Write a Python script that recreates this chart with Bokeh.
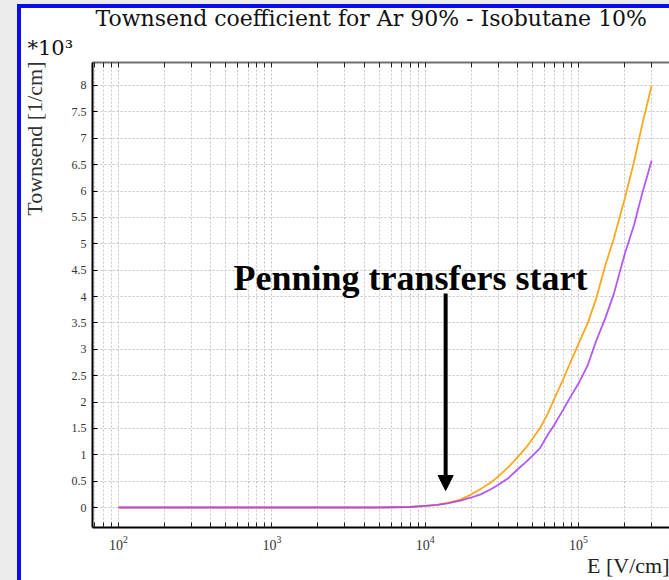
from bokeh.plotting import figure
from bokeh.models import (Range1d, LogAxis, FixedTicker, Arrow, Label,
                          NormalHead, Title)
from bokeh.embed import file_html
from bokeh.resources import INLINE

# ---------------- data ----------------
E_field = [100, 200, 500, 1000, 2000, 5000, 8000, 10000, 12000, 14000, 17000,
           20000, 23000, 27000, 30000, 35000, 40000, 45000, 50000, 56000,
           63000, 70000, 80000, 90000, 100000, 115000, 130000, 150000,
           170000, 200000, 230000, 260000, 300000]
townsend_penning = [0, 0, 0, 0, 0, 0, 0.01, 0.03, 0.05, 0.09, 0.15, 0.25,
                    0.35, 0.48, 0.59, 0.77, 0.95, 1.12, 1.3, 1.5, 1.78, 2.08,
                    2.45, 2.8, 3.1, 3.5, 3.95, 4.6, 5.1, 5.85, 6.55, 7.25, 8.0]
townsend_no_penning = [0, 0, 0, 0, 0, 0, 0.01, 0.03, 0.05, 0.08, 0.13, 0.19,
                       0.25, 0.35, 0.43, 0.56, 0.72, 0.85, 0.98, 1.12, 1.38,
                       1.58, 1.87, 2.13, 2.35, 2.7, 3.15, 3.6, 4.05, 4.8, 5.35,
                       5.95, 6.58]
y_ticks = [0, 0.5, 1, 1.5, 2, 2.5, 3, 3.5, 4, 4.5, 5, 5.5, 6, 6.5, 7, 7.5, 8]
y_tick_labels = ["0", "0.5", "1", "1.5", "2", "2.5", "3", "3.5", "4", "4.5",
                 "5", "5.5", "6", "6.5", "7", "7.5", "8"]
penning_start = 13600          # arrow position, V/cm

title_text = "Townsend coefficient for Ar 90% - Isobutane 10%"
scale_text = "*10\u00b3"
ylabel_text = "Townsend [1/cm]"
xlabel_text = "E [V/cm]"
note_text = "Penning transfers start"

# ---------------- layout ----------------
W, H = 669, 580
FL, FT, FR, FB = 92, 62, 669, 527
lx0, lx1 = 1.8304, 5.5935
y0, y1 = -0.379, 8.436


def yd(py):
    return y1 - (py - FT) * (y1 - y0) / (FB - FT)


main_title = Title(text=title_text, align="left", offset=3,
                   text_font="DejaVu Serif", text_font_size="22px",
                   text_font_style="normal", text_color="#111111", standoff=0)

p = figure(width=W, height=H, x_axis_type="log", title=main_title,
           x_range=Range1d(10 ** lx0, 10 ** lx1), y_range=Range1d(y0, y1),
           output_backend="svg", toolbar_location=None,
           min_border_left=FL, min_border_right=0, min_border_top=FT,
           min_border_bottom=H - FB, background_fill_color="white",
           border_fill_color=None, outline_line_color=None)

p.styles = {
    "background": ("linear-gradient(#0c0cf0,#0c0cf0) 17px 4px/4px 100% no-repeat, "
                   "linear-gradient(#0c0cf0,#0c0cf0) 17px 4px/100% 4px no-repeat, "
                   "linear-gradient(#ffffff,#ffffff) 17px 4px/100% 100% no-repeat, "
                   "#ececec"),
}

major_x = [10.0 ** e for e in range(2, 6)]
minor_x = [m * 10.0 ** e for e in range(1, 6) for m in range(2, 10)]

xa = p.xaxis[0]
xa.ticker = FixedTicker(ticks=major_x, minor_ticks=minor_x)
top_axis = LogAxis(ticker=FixedTicker(ticks=major_x, minor_ticks=minor_x))
p.add_layout(top_axis, "above")
p.add_layout(Title(text=scale_text, align="left", offset=27 - FL,
                   text_font="DejaVu Serif", text_font_size="21px",
                   text_font_style="normal", text_color="#111111",
                   standoff=6), "above")

for ax, col in [(xa, "black"), (top_axis, "#707070")]:
    ax.axis_line_color = col
    ax.axis_line_width = 2
    ax.major_tick_in = 5
    ax.major_tick_out = 0
    ax.minor_tick_in = 5
    ax.minor_tick_out = 0
    ax.major_tick_line_color = "#222222"
    ax.minor_tick_line_color = "#222222"

top_axis.major_label_text_font_size = "1px"
top_axis.major_label_text_alpha = 0.0
top_axis.major_label_standoff = 0

xa.major_label_text_font = "Liberation Serif"
xa.major_label_text_font_size = "14px"
xa.major_label_text_color = "#333333"
xa.major_label_standoff = 8

ya = p.yaxis[0]
ya.ticker = FixedTicker(ticks=y_ticks)
ya.major_label_overrides = {float(v): s for v, s in zip(y_ticks, y_tick_labels)}
ya.axis_line_width = 2
ya.axis_line_color = "black"
ya.major_tick_in = 5
ya.major_tick_out = 0
ya.minor_tick_line_color = None
ya.major_label_standoff = 6
ya.major_label_text_font = "Liberation Serif"
ya.major_label_text_font_size = "12px"
ya.major_label_text_color = "#333333"

# axis titles as side-panel titles (top-aligned / right-aligned as in the original)
p.add_layout(Title(text=ylabel_text, align="right", offset=-1,
                   vertical_align="middle", standoff=41,
                   text_font="Liberation Serif", text_font_size="22px",
                   text_font_style="normal", text_color="#333333"), "left")
p.add_layout(Title(text=xlabel_text, align="right", offset=0,
                   vertical_align="top", standoff=1,
                   text_font="Liberation Serif", text_font_size="22px",
                   text_font_style="normal", text_color="#222222"), "below")

p.xgrid.grid_line_color = "#c4c4c4"
p.xgrid.grid_line_dash = "2 2"
p.xgrid.minor_grid_line_color = "#c4c4c4"
p.xgrid.minor_grid_line_dash = "2 2"
p.ygrid.grid_line_color = "#c4c4c4"
p.ygrid.grid_line_dash = "2 2"

# curves
p.line(E_field, townsend_penning, line_color="#ffa81e", line_width=1.8)
p.line(E_field, townsend_no_penning, line_color="#a83af5", line_width=1.8,
       line_alpha=0.85)

# annotation arrow and text (inside the plot area)
p.add_layout(Arrow(x_start=penning_start, y_start=yd(293),
                   x_end=penning_start, y_end=yd(490), line_width=4,
                   line_color="black",
                   end=NormalHead(size=15, fill_color="black",
                                  line_color="black")))
p.add_layout(Label(x=233, y=277.5, x_units="canvas", y_units="canvas",
                   text=note_text, text_font="Liberation Serif",
                   text_font_style="bold", text_font_size="36px",
                   text_color="black", text_baseline="alphabetic"))

open("out.html", "w").write(file_html(p, INLINE))
